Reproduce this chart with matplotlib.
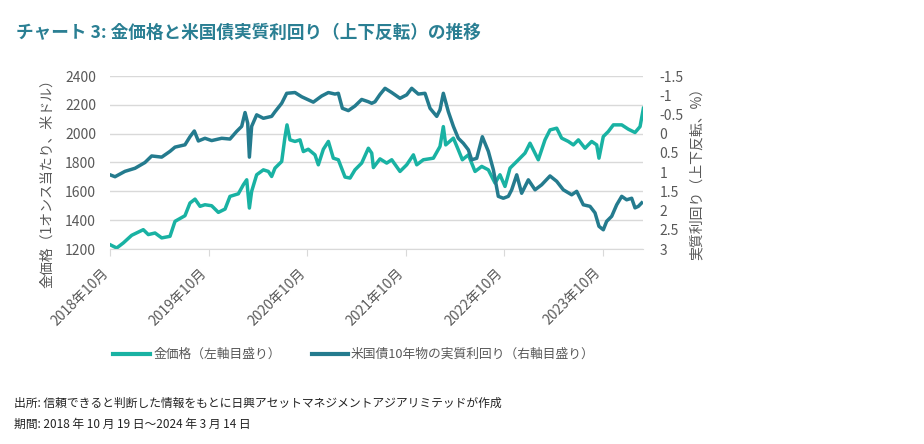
import matplotlib
matplotlib.use("Agg")
import matplotlib.pyplot as plt
from matplotlib.lines import Line2D
from matplotlib.transforms import ScaledTranslation

plt.rcParams['font.family'] = ['Noto Sans CJK JP', 'DejaVu Sans']

# ---- data (decimal years) ----
start_year = 2018.795  # 2018-10-19
gold_t = [0, 0.068, 0.135, 0.220, 0.338, 0.389, 0.457, 0.525, 0.609, 0.660, 0.761, 0.812, 0.863,
          0.914, 0.964, 1.032, 1.100, 1.168, 1.218, 1.303, 1.354, 1.388, 1.415, 1.438, 1.489, 1.557,
          1.608, 1.641, 1.675, 1.743, 1.777, 1.797, 1.827, 1.878, 1.929, 1.963, 2.013, 2.081, 2.115,
          2.166, 2.217, 2.267, 2.318, 2.386, 2.437, 2.487, 2.555, 2.623, 2.657, 2.674, 2.741, 2.809,
          2.860, 2.944, 3.012, 3.080, 3.114, 3.181, 3.283, 3.350, 3.384, 3.408, 3.486, 3.536, 3.577,
          3.638, 3.706, 3.774, 3.841, 3.909, 3.959, 4.010, 4.061, 4.129, 4.213, 4.264, 4.348, 4.416,
          4.467, 4.535, 4.585, 4.653, 4.704, 4.755, 4.822, 4.890, 4.941, 4.964, 5.008, 5.059, 5.110,
          5.195, 5.262, 5.330, 5.381, 5.415]
gold_price = [1230, 1207, 1242, 1295, 1334, 1300, 1311, 1277, 1288, 1392, 1431, 1519, 1546,
              1496, 1507, 1500, 1454, 1477, 1565, 1583, 1646, 1680, 1484, 1600, 1715, 1749,
              1738, 1703, 1761, 1807, 1980, 2061, 1957, 1946, 1957, 1876, 1892, 1853, 1784,
              1892, 1946, 1830, 1819, 1699, 1692, 1749, 1796, 1899, 1865, 1765, 1825, 1796,
              1819, 1738, 1784, 1853, 1784, 1819, 1830, 1911, 2049, 1922, 1969, 1888, 1819,
              1853, 1738, 1773, 1749, 1657, 1715, 1634, 1761, 1807, 1865, 1934, 1819, 1957,
              2026, 2038, 1969, 1946, 1922, 1957, 1899, 1946, 1922, 1830, 1980, 2015, 2061,
              2061, 2031, 2008, 2049, 2176]

yield_t = [0, 0.051, 0.152, 0.254, 0.355, 0.423, 0.525, 0.609, 0.660, 0.761, 0.812, 0.856, 0.897,
           0.964, 1.032, 1.134, 1.218, 1.286, 1.337, 1.371, 1.398, 1.415, 1.438, 1.489, 1.557,
           1.641, 1.675, 1.743, 1.794, 1.878, 1.946, 2.064, 2.149, 2.217, 2.284, 2.318, 2.359,
           2.420, 2.487, 2.555, 2.623, 2.657, 2.690, 2.741, 2.792, 2.860, 2.944, 3.012, 3.063,
           3.130, 3.198, 3.249, 3.317, 3.350, 3.384, 3.435, 3.486, 3.536, 3.587, 3.638, 3.672,
           3.723, 3.780, 3.841, 3.892, 3.942, 3.993, 4.044, 4.078, 4.129, 4.179, 4.247, 4.315,
           4.382, 4.467, 4.535, 4.602, 4.687, 4.738, 4.805, 4.873, 4.924, 4.964, 5.008, 5.042,
           5.093, 5.144, 5.195, 5.245, 5.296, 5.330, 5.364, 5.398]
real_yield = [1.07, 1.12, 0.98, 0.90, 0.75, 0.58, 0.61, 0.46, 0.35, 0.29, 0.08, -0.07, 0.19,
              0.12, 0.18, 0.12, 0.14, -0.06, -0.19, -0.55, -0.27, 0.61, -0.19, -0.49, -0.40,
              -0.45, -0.57, -0.79, -1.05, -1.07, -0.96, -0.82, -0.98, -1.07, -1.03, -1.05, -0.66,
              -0.60, -0.72, -0.89, -0.83, -0.79, -0.83, -1.02, -1.18, -1.07, -0.92, -1.01, -1.18,
              -1.03, -1.05, -0.66, -0.45, -0.62, -1.05, -0.57, -0.19, 0.12, 0.25, 0.42, 0.68,
              0.64, 0.08, 0.46, 0.94, 1.63, 1.68, 1.63, 1.46, 1.07, 1.55, 1.20, 1.46,
              1.33, 1.10, 1.24, 1.46, 1.59, 1.50, 1.85, 1.89, 2.06, 2.41, 2.50, 2.28,
              2.15, 1.85, 1.63, 1.72, 1.68, 1.93, 1.89, 1.80]

x_tick_labels = ['2018年10月', '2019年10月', '2020年10月', '2021年10月', '2022年10月', '2023年10月']
left_ticks = [1200, 1400, 1600, 1800, 2000, 2200, 2400]
right_ticks = [-1.5, -1, -0.5, 0, 0.5, 1, 1.5, 2, 2.5, 3]

title = 'チャート 3: 金価格と米国債実質利回り（上下反転）の推移'
left_label = '金価格（1オンス当たり、米ドル）'
right_label = '実質利回り（上下反転、%）'
legend_labels = ['金価格（左軸目盛り）', '米国債10年物の実質利回り（右軸目盛り）']
note1 = '出所: 信頼できると判断した情報をもとに日興アセットマネジメントアジアリミテッドが作成'
note2 = '期間: 2018 年 10 月 19 日～2024 年 3 月 14 日'

GOLD_C = '#19b2a3'
YIELD_C = '#247b8e'
TXT_C = '#595959'
GRID_C = '#d9d9d9'

fig = plt.figure(figsize=(9.24, 4.44), dpi=100)
ax = fig.add_axes([110/924, 1-249/444, 533/924, 173/444])
ax2 = ax.twinx()

gx = [start_year + t for t in gold_t]
yx = [start_year + t for t in yield_t]
ax.plot(gx, gold_price, color=GOLD_C, lw=2.5, solid_joinstyle='round')
ax2.plot(yx, real_yield, color=YIELD_C, lw=2.5, solid_joinstyle='round')

ax.set_xlim(start_year, start_year + 5.411)
ax.set_ylim(1200, 2400)
ax.set_yticks(left_ticks)
ax.set_yticklabels([str(v) for v in left_ticks])
ax2.set_ylim(3, -1.5)
ax2.set_yticks(right_ticks)
ax2.set_yticklabels([f'{v:g}' for v in right_ticks])

ax.grid(axis='y', color=GRID_C, lw=1)
ax.set_axisbelow(True)
for a in (ax, ax2):
    for s in ['top', 'left', 'right', 'bottom']:
        a.spines[s].set_visible(False)
ax.spines['bottom'].set_visible(True)
ax.spines['bottom'].set_color(GRID_C)

ax.set_xticks([start_year + k for k in range(6)])
ax.set_xticklabels(x_tick_labels, rotation=45, ha='right', rotation_mode='anchor',
                   color=TXT_C, fontsize=10)
ax.tick_params(axis='x', length=5, color=GRID_C, pad=4)
offset = ScaledTranslation(-9/100, -4/100, fig.dpi_scale_trans)
for lab in ax.get_xticklabels():
    lab.set_transform(lab.get_transform() + offset)
ax.tick_params(axis='y', length=0, labelsize=10, labelcolor=TXT_C, pad=10)
ax2.tick_params(axis='y', length=0, labelsize=10, labelcolor=TXT_C, pad=12)

fig.text(47/924, 1-180/444, left_label, rotation=90, ha='center', va='center',
         fontsize=10, color=TXT_C)
fig.text(697/924, 1-170/444, right_label, rotation=90, ha='center', va='center',
         fontsize=10, color=TXT_C)

fig.text(16/924, 1-33/444, title, ha='left', va='center', fontsize=12.7,
         fontweight='bold', color='#2a7f93')

# legend (manual placement)
ly = 1 - 354/444
legend_items = [(113, 150, 153, GOLD_C, legend_labels[0]),
                (312, 348, 351, YIELD_C, legend_labels[1])]
for x0, x1, xt, c, lab in legend_items:
    fig.add_artist(Line2D([x0/924, x1/924], [ly, ly], transform=fig.transFigure,
                          color=c, lw=3))
    fig.text(xt/924, ly, lab, ha='left', va='center', fontsize=9.2, color=TXT_C)

fig.text(14/924, 1-403/444, note1, ha='left', va='center', fontsize=8.5, color='#222222')
fig.text(14/924, 1-424/444, note2, ha='left', va='center', fontsize=8.5, color='#222222')

fig.savefig('out.png', dpi=100)
